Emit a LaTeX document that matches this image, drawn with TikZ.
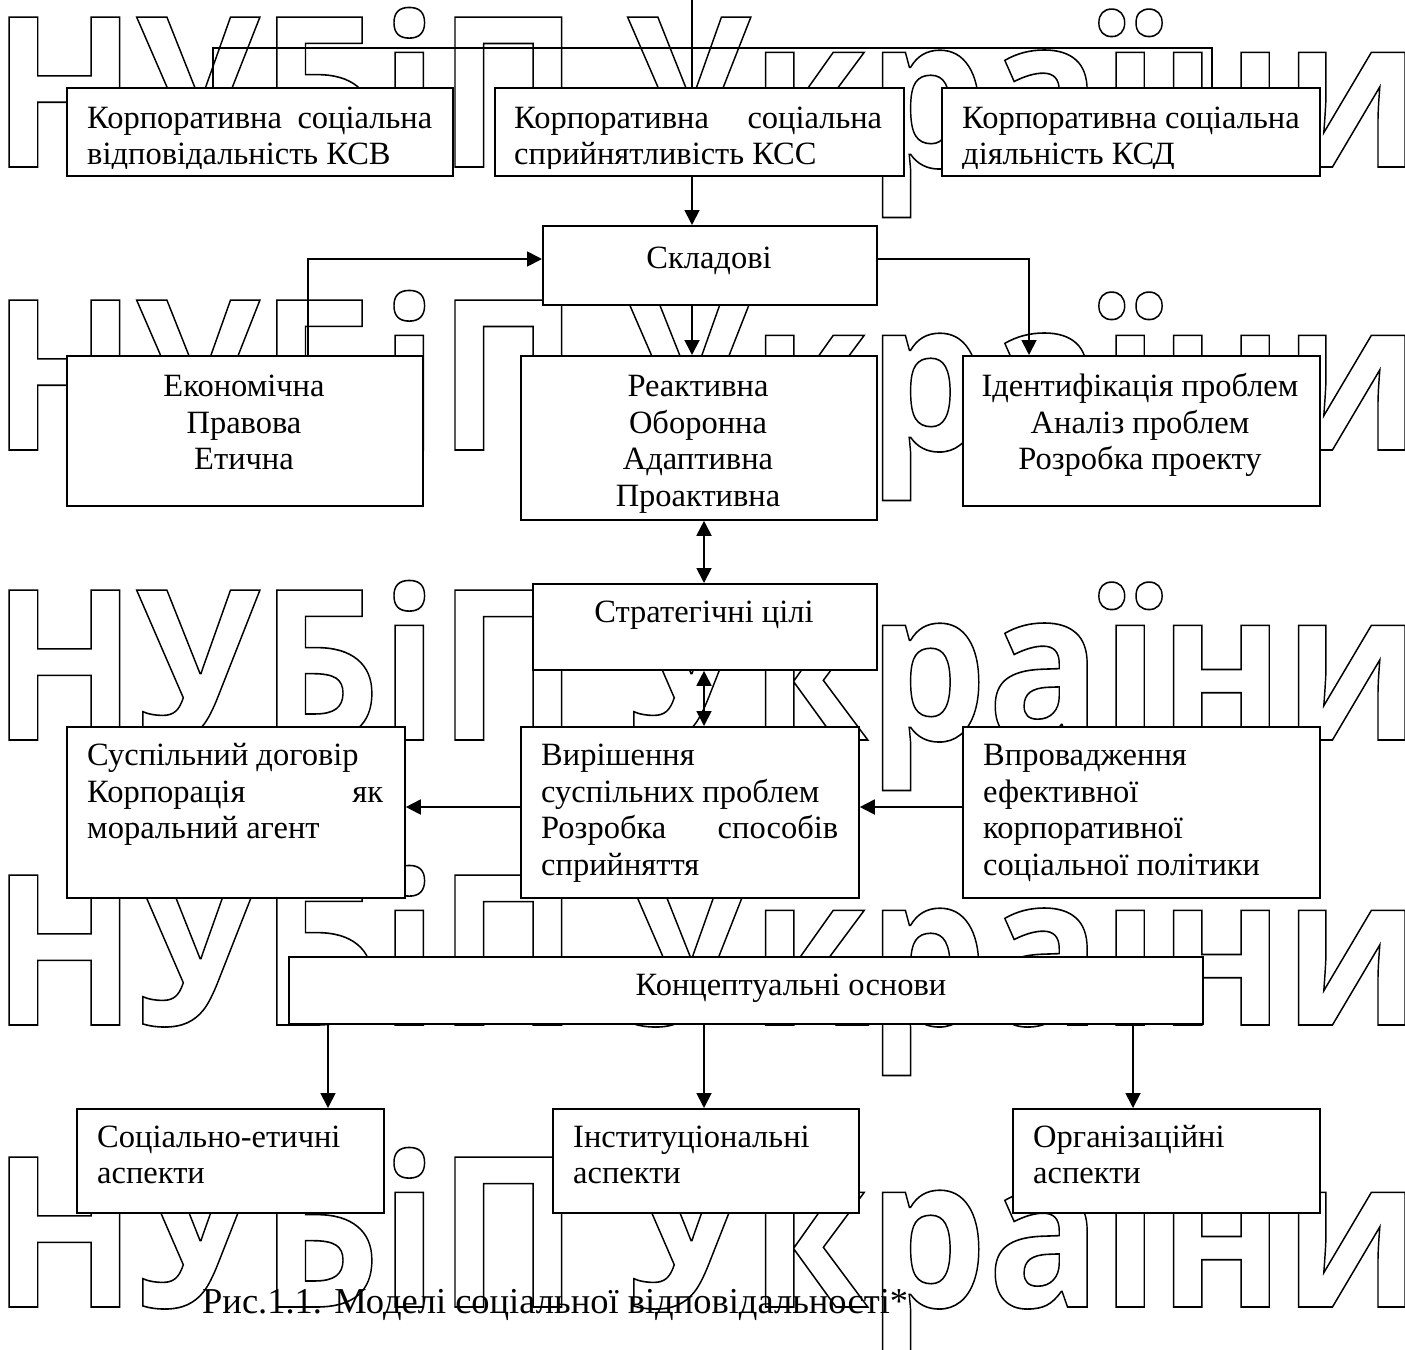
\documentclass[tikz,border=0pt]{standalone}
\usepackage{fontspec}
\setmainfont{Liberation Serif}
\newfontfamily\wmfont{Open Sans}
\usetikzlibrary{arrows.meta}
\newcommand\outl[1]{\special{pdf:literal 1 Tr 1.6 w}#1\special{pdf:literal 0 Tr}}
\newcommand\wmline{\resizebox{1428pt}{\height}{\outl{НУБіП України}}}
\begin{document}
\begin{tikzpicture}[x=1pt,y=-1pt,
  box/.style={draw, line width=1.8pt, fill=white, inner sep=0pt, anchor=north west},
  conn/.style={line width=1.8pt, -{Triangle[length=15pt,width=15pt]}},
  dconn/.style={line width=1.8pt, {Triangle[length=15pt,width=15pt]}-{Triangle[length=15pt,width=15pt]}},
  plain/.style={line width=1.8pt},
  txt/.style={inner sep=0pt, anchor=base west, font=\fontsize{32.5}{37}\selectfont},
  ctxt/.style={inner sep=0pt, anchor=base, font=\fontsize{32.5}{37}\selectfont},
  wm/.style={inner sep=0pt, anchor=base west, font=\wmfont\bfseries\fontsize{210}{210}\selectfont}]
\fill[white] (0,0) rectangle (1405,1349);
\useasboundingbox (0,0) rectangle (1405,1349);
% caption
\node[txt, font=\fontsize{36.5}{40}\selectfont] (cap) at (202,1313) {Рис.1.1. Моделі соціальної відповідальності*};
% watermark
\node[wm] (w1) at (-8,167) {\wmline};
\node[wm] (w2) at (-8,450) {\wmline};
\node[wm] (w3) at (-8,740) {\wmline};
\node[wm] (w4) at (-8,1025) {\wmline};
\node[wm] (w5) at (-8,1307) {\wmline};
% top connectors
\coordinate (top) at (692,0);
\coordinate (hl) at (213,48);
\coordinate (hr) at (1212,48);
% boxes
\node[box, minimum width=386pt, minimum height=88pt] (kcv) at (66,87) {};
\node[box, minimum width=409pt, minimum height=88pt] (kcc) at (494,87) {};
\node[box, minimum width=378pt, minimum height=88pt] (kcd) at (941,87) {};
\node[box, minimum width=334pt, minimum height=79pt] (skl) at (542,225) {};
\node[box, minimum width=356pt, minimum height=150pt] (econ) at (66,355) {};
\node[box, minimum width=356pt, minimum height=164pt] (react) at (520,355) {};
\node[box, minimum width=357pt, minimum height=150pt] (ident) at (962,355) {};
\node[box, minimum width=344pt, minimum height=86pt] (strat) at (532,583) {};
\node[box, minimum width=338pt, minimum height=171pt] (susp) at (66,726) {};
\node[box, minimum width=338pt, minimum height=171pt] (vyr) at (520,726) {};
\node[box, minimum width=357pt, minimum height=171pt] (vpr) at (962,726) {};
\node[box, minimum width=914pt, minimum height=67pt] (konc) at (288,956) {};
\node[box, minimum width=307pt, minimum height=104pt] (soc) at (76,1108) {};
\node[box, minimum width=306pt, minimum height=104pt] (inst) at (552,1108) {};
\node[box, minimum width=307pt, minimum height=104pt] (org) at (1012,1108) {};
% connectors
\draw[plain] (top) -- (top |- kcc.north);
\draw[plain] (kcv.north -| hl) -- (hl) -- (hr) -- (hr |- kcd.north);
\draw[conn] (kcc.south -| top) -- (skl.north -| top);
\coordinate (e1) at (308,259);
\coordinate (i1) at (1029,259);
\draw[conn] (econ.north -| e1) -- (e1) -- (skl.west |- e1);
\draw[conn] (skl.east |- i1) -- (i1) -- (ident.north -| i1);
\draw[conn] (skl.south -| top) -- (react.north -| top);
\coordinate (mid) at (704,0);
\draw[dconn] (react.south -| mid) -- (strat.north -| mid);
\draw[dconn] (strat.south -| mid) -- (vyr.north -| mid);
\coordinate (r4) at (0,807);
\draw[conn] (vyr.west |- r4) -- (susp.east |- r4);
\draw[conn] (vpr.west |- r4) -- (vyr.east |- r4);
\coordinate (b1) at (328,0);
\coordinate (b3) at (1133,0);
\draw[conn] (konc.south -| b1) -- (soc.north -| b1);
\draw[conn] (konc.south -| mid) -- (inst.north -| mid);
\draw[conn] (konc.south -| b3) -- (org.north -| b3);
% texts row 1 (clipped at the bottom)
\begin{scope}
\clip (60,80) rectangle (1330,168);
\node[txt] (t1a) at (87,128) {\makebox[345pt][s]{Корпоративна соціальна}};
\node[txt] (t1b) at (87,164) {відповідальність КСВ};
\node[txt] (t2a) at (514,128) {\makebox[368pt][s]{Корпоративна соціальна}};
\node[txt] (t2b) at (514,164) {сприйнятливість КСС};
\node[txt] (t3a) at (962,128) {Корпоративна соціальна};
\node[txt] (t3b) at (962,164) {діяльність КСД};
\end{scope}
\node[ctxt] (t4) at (709,268) {Складові};
\node[ctxt] (t5a) at (244,396) {Економічна};
\node[ctxt] (t5b) at (244,433) {Правова};
\node[ctxt] (t5c) at (244,469) {Етична};
\node[ctxt] (t6a) at (698,396) {Реактивна};
\node[ctxt] (t6b) at (698,433) {Оборонна};
\node[ctxt] (t6c) at (698,469) {Адаптивна};
\node[ctxt] (t6d) at (698,506) {Проактивна};
\node[ctxt] (t7a) at (1140,396) {Ідентифікація проблем};
\node[ctxt] (t7b) at (1140,433) {Аналіз проблем};
\node[ctxt] (t7c) at (1140,469) {Розробка проекту};
\node[ctxt] (t8) at (704,622) {Стратегічні цілі};
\node[txt] (t9a) at (87,765) {Суспільний договір};
\node[txt] (t9b) at (87,802) {\makebox[296pt][s]{Корпорація як}};
\node[txt] (t9c) at (87,838) {моральний агент};
\node[txt] (t10a) at (541,765) {Вирішення};
\node[txt] (t10b) at (541,802) {суспільних проблем};
\node[txt] (t10c) at (541,838) {\makebox[297pt][s]{Розробка способів}};
\node[txt] (t10d) at (541,875) {сприйняття};
\node[txt] (t11a) at (983,765) {Впровадження};
\node[txt] (t11b) at (983,802) {ефективної};
\node[txt] (t11c) at (983,838) {корпоративної};
\node[txt] (t11d) at (983,875) {соціальної політики};
\node[ctxt] (t12) at (791,995) {Концептуальні основи};
\node[txt] (t13a) at (97,1147) {Соціально-етичні};
\node[txt] (t13b) at (97,1183) {аспекти};
\node[txt] (t14a) at (573,1147) {Інституціональні};
\node[txt] (t14b) at (573,1183) {аспекти};
\node[txt] (t15a) at (1033,1147) {Організаційні};
\node[txt] (t15b) at (1033,1183) {аспекти};
\end{tikzpicture}
\end{document}
